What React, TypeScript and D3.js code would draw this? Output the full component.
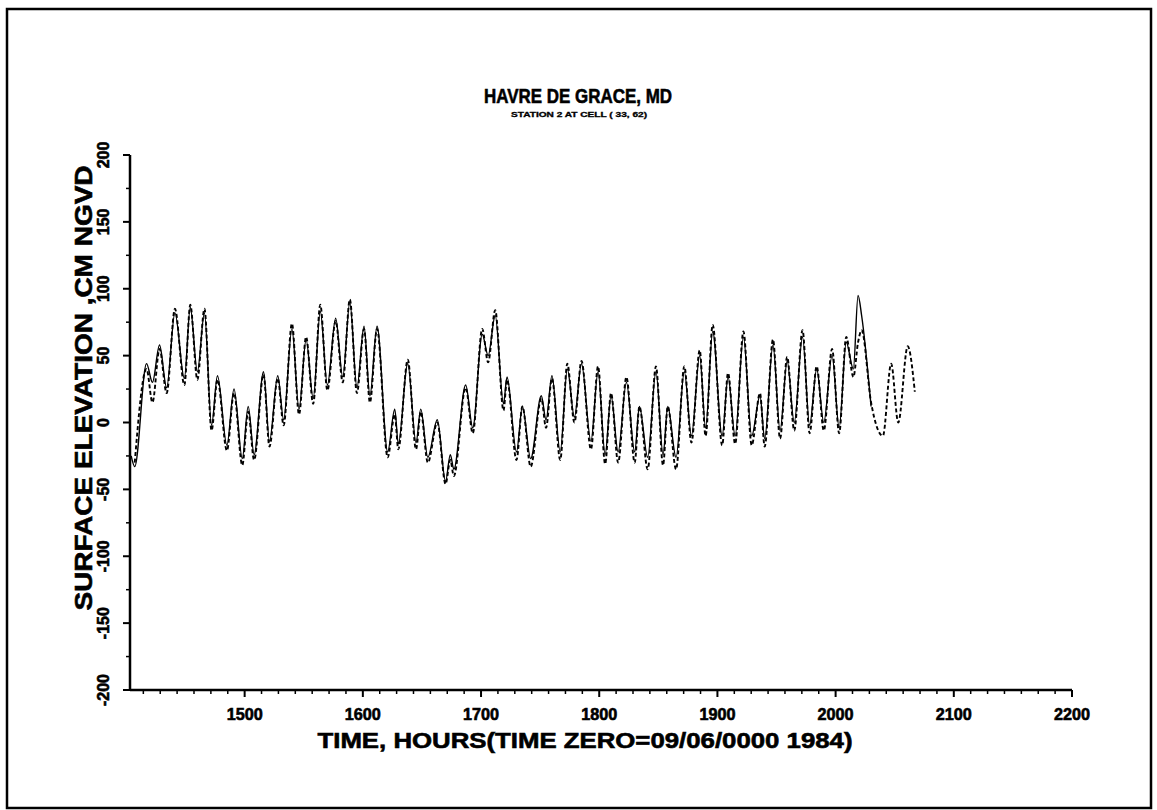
import React from "react";
import * as d3 from "d3";

// Extreme points (hours)
const times = [
  1404, 1407, 1417, 1422, 1428, 1434, 1441, 1449, 1454, 1460, 1466, 1472, 1477, 1485, 1491, 1498,
  1503, 1508, 1516, 1521, 1528, 1533, 1540, 1546, 1552, 1558, 1564, 1570, 1577, 1583, 1589, 1595,
  1601, 1606, 1612, 1621, 1627, 1630, 1638, 1645, 1649, 1655, 1663, 1670, 1674, 1677, 1687, 1693,
  1701, 1706, 1712, 1719, 1722, 1730, 1735, 1742, 1751, 1755, 1760, 1767, 1773, 1779, 1785, 1793,
  1799, 1805, 1810, 1816, 1823, 1830, 1834, 1841, 1848, 1854, 1858, 1865, 1872, 1878, 1885, 1890,
  1896, 1904, 1909, 1915, 1922, 1929, 1936, 1940, 1947, 1953, 1959, 1965, 1972, 1978, 1984, 1990,
  1997, 2003, 2009, 2015, 2019, 2022, 2030, 2040, 2047, 2053, 2061, 2067,
];

// Solid line (ends near 2030)
const solidValues: (number | null)[] = [
  -25, -33, 44, 30, 58, 26, 82, 33, 86, 38, 82, -2, 35, -17, 25, -27,
  12, -24, 38, -14, 35, 2, 70, 10, 62, 18, 83, 28, 78, 34, 90, 26,
  72, 20, 72, -22, 10, -16, 44, -15, 10, -26, 2, -44, -24, -35, 28, -4,
  66, 50, 80, 14, 34, -22, 12, -27, 20, 2, 35, -22, 40, 4, 44, -14,
  38, -24, 20, -22, 30, -22, 12, -26, 38, -24, 12, -26, 38, -10, 50, -4,
  68, -10, 34, -10, 64, -10, 20, -12, 58, -6, 46, 0, 64, -2, 40, 0,
  50, -4, 60, 40, 95, 80, 12, null, null, null, null, null,
];

// Dashed line
const dashedValues: (number | null)[] = [
  null, -30, 40, 15, 55, 22, 85, 28, 88, 32, 85, -6, 32, -21, 22, -32,
  8, -28, 36, -18, 33, -2, 74, 6, 64, 14, 88, 24, 76, 30, 92, 22,
  70, 15, 70, -26, 6, -20, 47, -20, 8, -30, 0, -46, -28, -40, 26, -8,
  70, 45, 84, 9, 32, -28, 12, -33, 18, -4, 33, -28, 44, 0, 46, -20,
  42, -31, 22, -30, 34, -30, 12, -35, 42, -32, 12, -35, 42, -15, 54, -10,
  73, -17, 37, -16, 68, -17, 22, -18, 62, -12, 49, -6, 69, -8, 42, -6,
  55, -8, 64, 34, 60, 69, 15, -10, 44, 0, 57, 23,
];

const yTickValues = [-200, -150, -100, -50, 0, 50, 100, 150, 200];
const xTickValues = [1500, 1600, 1700, 1800, 1900, 2000, 2100, 2200];

const title = "HAVRE DE GRACE, MD";
const subtitle = "STATION 2 AT CELL ( 33, 62)";
const yLabel = "SURFACE ELEVATION ,CM NGVD";
const xLabel = "TIME, HOURS(TIME ZERO=09/06/0000 1984)";

export default function App() {
  const axisLeft = 130;
  const axisRight = 1072;
  const axisTop = 155;
  const axisBottom = 690;
  const xStart = 1403;
  const xEnd = 2200;

  const x = d3.scaleLinear().domain([xStart, xEnd]).range([axisLeft, axisRight]);
  const y = d3.scaleLinear().domain([-200, 200]).range([axisBottom, axisTop]);

  const mk = (vals: (number | null)[]) =>
    times.map((t, i) => ({ t, v: vals[i] }));

  const line = d3
    .line<{ t: number; v: number | null }>()
    .defined((d) => d.v != null)
    .x((d) => x(d.t))
    .y((d) => y(d.v as number))
    .curve(d3.curveMonotoneX);

  const solidPath = line(mk(solidValues)) || "";
  const dashedPath = line(mk(dashedValues)) || "";

  // minor ticks: 7 intervals per 100 hours
  const xMinor: number[] = [];
  for (let base = 1400; base < 2200; base += 100) {
    for (let k = 1; k < 7; k++) {
      const t = base + (k * 100) / 7;
      if (t > xStart) xMinor.push(t);
    }
  }
  const yMinor = [-175, -125, -75, -25, 25, 75, 125, 175];

  const font = "'Liberation Sans', Arial, sans-serif";
  const heavy = { stroke: "#000", strokeWidth: 0.6 };

  return (
    <svg
      width={1157}
      height={810}
      style={{ position: "absolute", left: 0, top: 0, background: "#fff" }}
      fontFamily={font}
    >
      <rect x={0} y={0} width={1157} height={810} fill="#fff" />
      <rect x={7} y={9} width={1144} height={799} fill="none" stroke="#000" strokeWidth={2.5} />

      {/* titles */}
      <text x={578} y={103} textAnchor="middle" fontSize={21} fontWeight="bold" textLength={188} lengthAdjust="spacingAndGlyphs" {...heavy}>
        {title}
      </text>
      <text x={579} y={117} textAnchor="middle" fontSize={7} fontWeight="bold" textLength={136} lengthAdjust="spacingAndGlyphs" stroke="#000" strokeWidth={0.3}>
        {subtitle}
      </text>

      {/* data */}
      <path d={solidPath} fill="none" stroke="#000" strokeWidth={1.4} />
      <path d={dashedPath} fill="none" stroke="#000" strokeWidth={1.9} strokeDasharray="4,2.5" />

      {/* axes */}
      <line x1={axisLeft} y1={axisTop} x2={axisLeft} y2={axisBottom} stroke="#000" strokeWidth={2.5} />
      <line x1={axisLeft} y1={axisBottom} x2={axisRight} y2={axisBottom} stroke="#000" strokeWidth={2.5} />

      {yTickValues.map((v) => (
        <g key={"yt" + v}>
          <line x1={axisLeft - 7} x2={axisLeft} y1={y(v)} y2={y(v)} stroke="#000" strokeWidth={2} />
          <text
            transform={`translate(${109},${y(v)}) rotate(-90)`}
            textAnchor="middle"
            fontSize={16}
            fontWeight="bold"
            {...heavy}
          >
            {v}
          </text>
        </g>
      ))}
      {yMinor.map((v) => (
        <line key={"ym" + v} x1={axisLeft - 4} x2={axisLeft} y1={y(v)} y2={y(v)} stroke="#000" strokeWidth={1.5} />
      ))}

      {xTickValues.map((t) => (
        <g key={"xt" + t}>
          <line x1={x(t)} x2={x(t)} y1={axisBottom} y2={axisBottom + 7} stroke="#000" strokeWidth={2} />
          <text x={x(t)} y={720} textAnchor="middle" fontSize={16} fontWeight="bold" textLength={36} lengthAdjust="spacingAndGlyphs" {...heavy}>
            {t}
          </text>
        </g>
      ))}
      {xMinor.map((t, i) => (
        <line key={"xm" + i} x1={x(t)} x2={x(t)} y1={axisBottom} y2={axisBottom + 4} stroke="#000" strokeWidth={1.5} />
      ))}

      {/* axis labels */}
      <text x={585} y={748} textAnchor="middle" fontSize={22} fontWeight="bold" textLength={535} lengthAdjust="spacingAndGlyphs" {...heavy}>
        {xLabel}
      </text>
      <text
        transform={`translate(${92},${388}) rotate(-90)`}
        textAnchor="middle"
        fontSize={24}
        fontWeight="bold"
        textLength={445}
        lengthAdjust="spacingAndGlyphs"
        {...heavy}
      >
        {yLabel}
      </text>
    </svg>
  );
}
